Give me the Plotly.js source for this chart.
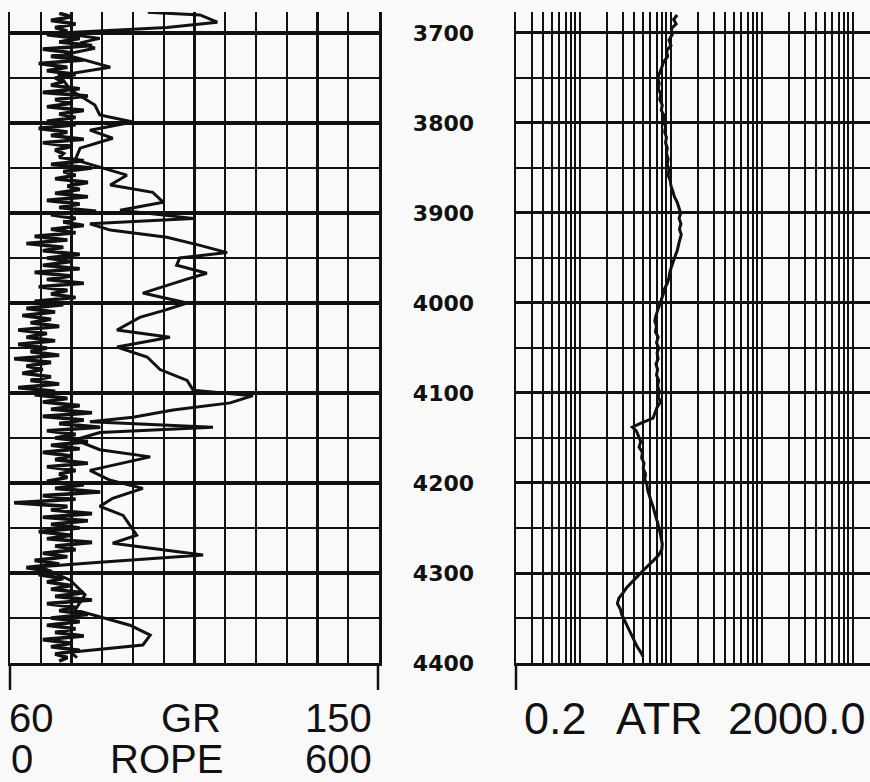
<!DOCTYPE html>
<html>
<head>
<meta charset="utf-8">
<script src="https://cdn.plot.ly/plotly-3.0.1.min.js"></script>
<style>html,body{margin:0;padding:0;background:#f9f9f9;}#chart{width:870px;height:782px;}</style>
</head>
<body>
<div id="chart"></div>
<script>
// ---------- DATA ----------
var depthTicks = [3700, 3800, 3900, 4000, 4100, 4200, 4300, 4400];
var depthTickLabels = ['3700', '3800', '3900', '4000', '4100', '4200', '4300', '4400'];

// GR (API), sampled every 4 ft from 3678 ft
var grDepth = [
 3678,3682,3686,3690,3694,3698,3702,3706,3710,3714,
 3718,3722,3726,3730,3734,3738,3742,3746,3750,3754,
 3758,3762,3766,3770,3774,3778,3782,3786,3790,3794,
 3798,3802,3806,3810,3814,3818,3822,3826,3830,3834,
 3838,3842,3846,3850,3854,3858,3862,3866,3870,3874,
 3878,3882,3886,3890,3894,3898,3902,3906,3910,3914,
 3918,3922,3926,3930,3934,3938,3942,3946,3950,3954,
 3958,3962,3966,3970,3974,3978,3982,3986,3990,3994,
 3998,4002,4006,4010,4014,4018,4022,4026,4030,4034,
 4038,4042,4046,4050,4054,4058,4062,4066,4070,4074,
 4078,4082,4086,4090,4094,4098,4102,4106,4110,4114,
 4118,4122,4126,4130,4134,4138,4142,4146,4150,4154,
 4158,4162,4166,4170,4174,4178,4182,4186,4190,4194,
 4198,4202,4206,4210,4214,4218,4222,4226,4230,4234,
 4238,4242,4246,4250,4254,4258,4262,4266,4270,4274,
 4278,4282,4286,4290,4294,4298,4302,4306,4310,4314,
 4318,4322,4326,4330,4334,4338,4342,4346,4350,4354,
 4358,4362,4366,4370,4374,4378,4382,4386,4390,4394,
 4398];
var grValue = [
 72,75,70,76,71,74,69,77,72,80,
 68,75,70,78,67,74,69,76,71,73,
 70,77,68,79,71,75,69,78,72,76,
 69,76,67,74,70,78,68,75,71,73,
 72,78,70,80,73,76,71,79,74,77,
 71,79,69,77,72,81,70,76,73,78,
 70,76,66,74,64,73,68,77,69,75,
 68,77,66,75,69,78,67,74,70,76,
 66,73,64,71,63,70,65,72,62,69,
 64,71,62,69,65,72,61,70,64,68,
 63,70,65,72,62,71,66,74,68,77,
 70,80,68,78,72,82,69,76,71,79,
 70,77,68,75,71,79,69,76,72,74,
 69,78,71,82,68,76,61,74,70,80,
 68,79,70,77,67,75,69,80,71,76,
 68,74,66,72,64,70,67,73,69,75,
 70,78,71,80,69,76,72,79,70,77,
 69,76,71,78,68,75,70,77,71,74,
 72];

// ROPE (ft/hr)
var ropeDepth = [3677,3680,3688,3694,3700,3706,3711,3717,3724,3738,3747,3763,3780,3791,3799,3808,3817,3828,3841,3858,3869,3877,3888,3897,3906,3912,3919,3927,3936,3944,3950,3958,3967,3974,3989,4000,4008,4016,4030,4038,4049,4060,4074,4086,4097,4103,4111,4119,4127,4132,4138,4144,4152,4163,4171,4186,4197,4206,4217,4226,4236,4247,4258,4267,4280,4288,4293,4308,4324,4341,4358,4369,4380,4388,4394];
var ropeValue = [224,309,337,255,81,146,114,138,89,163,81,98,138,146,200,130,167,114,106,190,163,232,249,179,298,130,163,255,309,353,276,271,320,285,216,288,252,211,174,260,174,223,244,288,298,395,358,265,200,130,330,146,106,146,228,130,163,216,167,146,184,195,206,167,314,146,49,98,122,106,195,228,216,98,109];

// ATR (ohm-m)
var atrDepth = [3680,3685,3690,3695,3702,3708,3714,3720,3726,3732,3738,3744,3750,3756,3762,3768,3774,3780,3786,3792,3798,3804,3810,3816,3822,3828,3834,3840,3846,3852,3858,3864,3870,3876,3882,3888,3894,3900,3906,3912,3918,3924,3930,3936,3942,3948,3954,3960,3966,3972,3978,3984,3990,3996,4002,4008,4014,4020,4026,4032,4038,4044,4050,4056,4062,4068,4074,4080,4086,4092,4098,4104,4110,4116,4122,4128,4134,4138,4142,4148,4154,4160,4166,4172,4178,4184,4190,4196,4202,4208,4214,4220,4226,4232,4238,4244,4250,4256,4262,4268,4274,4280,4286,4292,4298,4304,4310,4316,4322,4328,4334,4340,4346,4352,4358,4364,4370,4376,4382,4388,4393];
var atrValue = [11.8,10.8,11.5,10.2,10.4,9.6,10.1,9.0,9.3,8.4,8.0,7.6,7.2,7.5,7.3,7.8,7.6,8.1,7.9,8.5,8.3,8.8,8.6,9.0,8.8,9.2,9.0,9.4,9.2,9.6,9.4,9.9,10.1,10.6,11.0,11.8,12.3,12.9,12.4,13.0,12.5,13.1,12.6,12.2,11.8,11.2,10.6,10.2,9.8,9.6,9.2,8.6,8.3,7.9,7.6,7.2,6.9,6.7,7.0,6.8,7.3,7.0,7.4,7.1,7.3,6.9,7.2,7.0,7.4,7.2,7.5,7.3,7.7,7.1,6.8,6.4,4.6,3.8,4.2,4.4,4.7,4.5,4.9,4.8,5.1,5.0,5.3,5.2,5.5,5.6,5.9,6.1,6.4,6.6,6.9,7.2,7.5,7.7,7.9,8.1,8.0,7.4,6.5,5.6,4.9,4.3,3.8,3.3,3.0,2.7,2.6,2.8,2.9,3.1,3.3,3.5,3.8,4.0,4.3,4.7,5.0];

// Scale labels
var grScale = {min: 60, max: 150, name: 'GR'};
var ropeScale = {min: 0, max: 600, name: 'ROPE'};
var atrScale = {min: 0.2, max: 2000, name: 'ATR', minLabel: '0.2', maxLabel: '2000.0'};

// ---------- LAYOUT ----------
var W = 870, H = 782;
function px(x){ return x / W; }
function py(y){ return 1 - y / H; }

var ink = '#111';
var traces = [
  {x: grValue, y: grDepth, xaxis: 'x', yaxis: 'y', mode: 'lines', line: {color: ink, width: 3.6}, hoverinfo: 'skip'},
  {x: ropeValue, y: ropeDepth, xaxis: 'x2', yaxis: 'y', mode: 'lines', line: {color: ink, width: 3}, hoverinfo: 'skip'},
  {x: atrValue, y: atrDepth, xaxis: 'x3', yaxis: 'y2', mode: 'lines', line: {color: ink, width: 3}, hoverinfo: 'skip'}
];

var yDom = [py(663), py(12)];
var yRange = [4400, 3676.7];
var atrTop = Math.log10(0.2) + (870 - 516) / 91;

var common = {showticklabels: false, ticks: '', zeroline: false, fixedrange: true};

var labFont = {family: 'Liberation Sans, Arial, sans-serif', size: 40, color: ink};
var labFontR = {family: 'Liberation Sans, Arial, sans-serif', size: 45, color: ink};
function ann(text, x, y, f){ return {text: text, xref: 'paper', yref: 'paper', x: px(x), y: py(y), xanchor: 'center', yanchor: 'middle', showarrow: false, font: f}; }

var layout = {
  width: W, height: H,
  margin: {l: 0, r: 0, t: 0, b: 0},
  paper_bgcolor: '#f9f9f9', plot_bgcolor: '#f9f9f9',
  showlegend: false,
  xaxis: Object.assign({}, common, {domain: [px(10), px(379)], range: [grScale.min, grScale.max], tick0: 60, dtick: 7.5,
    showgrid: true, gridcolor: ink, gridwidth: 2.3, showline: true, linecolor: ink, linewidth: 3, anchor: 'y'}),
  xaxis2: Object.assign({}, common, {overlaying: 'x', range: [ropeScale.min, ropeScale.max], showgrid: false, visible: false, anchor: 'y'}),
  xaxis3: Object.assign({}, common, {domain: [px(516), 1], type: 'log', range: [Math.log10(atrScale.min), atrTop], dtick: 'D1',
    showgrid: true, gridcolor: ink, gridwidth: 2, showline: true, linecolor: ink, linewidth: 3, anchor: 'y2'}),
  yaxis: Object.assign({}, common, {domain: yDom, range: yRange, tick0: 3700, dtick: 100, showgrid: true, gridcolor: ink, gridwidth: 3.5,
    minor: {dtick: 50, tick0: 3700, showgrid: true, gridcolor: ink, gridwidth: 2.3},
    showline: true, mirror: true, linecolor: ink, linewidth: 2.5, anchor: 'x'}),
  yaxis2: {domain: yDom, range: yRange, anchor: 'x3', side: 'left', tickmode: 'array', tickvals: depthTicks, ticktext: depthTickLabels,
    showticklabels: true, ticks: '', ticklabelstandoff: 35, zeroline: false, fixedrange: true,
    tickfont: {family: 'DejaVu Sans, sans-serif', size: 22, weight: 'bold', color: ink},
    showgrid: true, gridcolor: ink, gridwidth: 3,
    minor: {dtick: 50, tick0: 3700, showgrid: true, gridcolor: ink, gridwidth: 2.3},
    showline: true, linecolor: ink, linewidth: 2.5},
  shapes: [
    {type: 'line', xref: 'paper', yref: 'paper', x0: px(10), x1: px(10), y0: py(663), y1: py(690), line: {color: ink, width: 2.5}},
    {type: 'line', xref: 'paper', yref: 'paper', x0: px(378), x1: px(378), y0: py(663), y1: py(690), line: {color: ink, width: 2.5}},
    {type: 'line', xref: 'paper', yref: 'paper', x0: px(516), x1: px(516), y0: py(663), y1: py(690), line: {color: ink, width: 2.5}}
  ],
  annotations: [
    ann(String(grScale.min), 31, 718, labFont),
    ann(grScale.name, 191, 718, labFont),
    ann(String(grScale.max), 338, 718, labFont),
    ann(String(ropeScale.min), 22, 759, labFont),
    ann(ropeScale.name, 166, 759, labFont),
    ann(String(ropeScale.max), 338, 759, labFont),
    ann(atrScale.minLabel, 555, 718, labFontR),
    ann(atrScale.name, 659, 718, labFontR),
    ann(atrScale.maxLabel, 797, 718, labFontR)
  ]
};

Plotly.newPlot('chart', traces, layout, {displayModeBar: false, staticPlot: true});
</script>
</body>
</html>
